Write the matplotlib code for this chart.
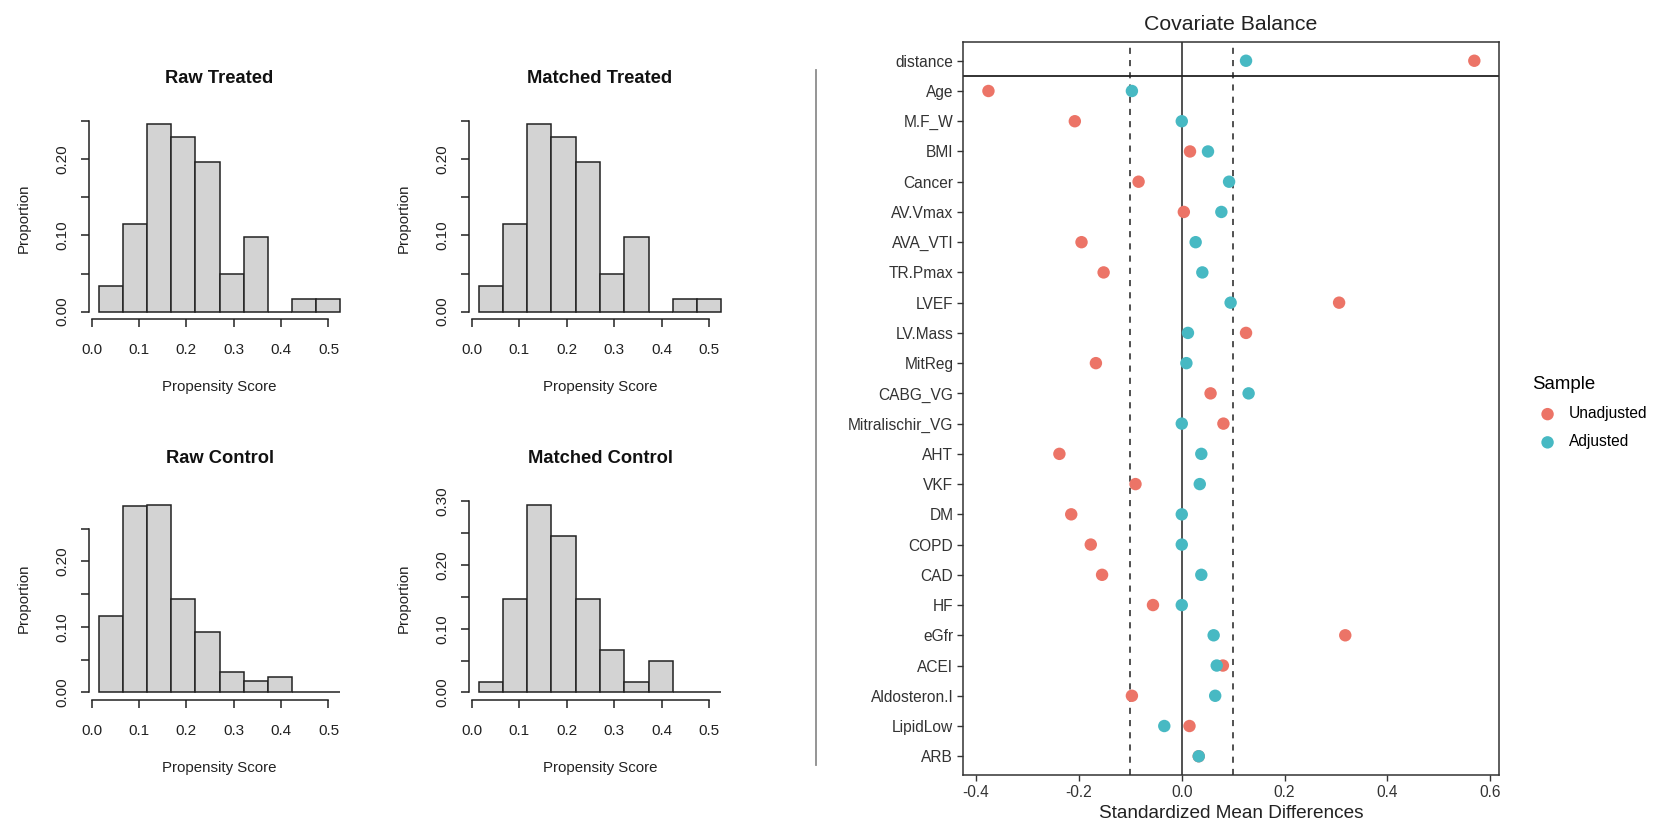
import matplotlib
matplotlib.use("Agg")
import matplotlib.pyplot as plt
from matplotlib.lines import Line2D
import numpy as np

plt.rcParams["font.family"] = ["Liberation Sans", "DejaVu Sans"]

W, H = 1660, 825

# ── histogram data (proportions per propensity-score bin) ──────────────────────
bin_edges = [0.015, 0.066, 0.117, 0.168, 0.219, 0.270, 0.321, 0.372, 0.423, 0.474, 0.525]
raw_treated = [0.033, 0.115, 0.246, 0.230, 0.197, 0.049, 0.098, 0.0, 0.016, 0.016]
matched_treated = [0.033, 0.115, 0.246, 0.230, 0.197, 0.049, 0.098, 0.0, 0.016, 0.016]
raw_control = [0.117, 0.285, 0.287, 0.143, 0.092, 0.031, 0.018, 0.024, 0.0, 0.0]
matched_control = [0.017, 0.147, 0.295, 0.246, 0.147, 0.066, 0.017, 0.049, 0.0, 0.0]
hist_titles = ["Raw Treated", "Matched Treated", "Raw Control", "Matched Control"]
x_ticks = [0.0, 0.1, 0.2, 0.3, 0.4, 0.5]

# ── love plot data ─────────────────────────────────────────────────────────────
covariates = ["distance", "Age", "M.F_W", "BMI", "Cancer", "AV.Vmax", "AVA_VTI", "TR.Pmax",
              "LVEF", "LV.Mass", "MitReg", "CABG_VG", "Mitralischir_VG", "AHT", "VKF", "DM",
              "COPD", "CAD", "HF", "eGfr", "ACEI", "Aldosteron.I", "LipidLow", "ARB"]
smd_unadjusted = [0.569, -0.376, -0.208, 0.016, -0.084, 0.004, -0.195, -0.152,
                  0.306, 0.125, -0.167, 0.056, 0.081, -0.238, -0.090, -0.215,
                  -0.177, -0.155, -0.056, 0.318, 0.080, -0.097, 0.015, 0.033]
smd_adjusted = [0.125, -0.097, 0.0, 0.051, 0.092, 0.077, 0.027, 0.040,
                0.095, 0.012, 0.009, 0.130, 0.0, 0.038, 0.035, 0.0,
                0.0, 0.038, 0.0, 0.062, 0.068, 0.065, -0.034, 0.033]
smd_ticks = [-0.4, -0.2, 0.0, 0.2, 0.4, 0.6]
threshold = 0.1

RED = "#EC7467"
TEAL = "#47B9C3"
BAR_GREY = "#D3D3D3"
INK = "#222222"

fig = plt.figure(figsize=(W / 100, H / 100), dpi=100)
fig.patch.set_facecolor("white")


def px_axes(left, top, right, bottom):
    return fig.add_axes([left / W, 1 - bottom / H, (right - left) / W, (bottom - top) / H])


def hist_panel(left, top, right, bottom, heights, title):
    ax = px_axes(left, top, right, bottom)
    widths = np.diff(bin_edges)
    ax.bar(bin_edges[:-1], heights, width=widths, align="edge", color=BAR_GREY,
           edgecolor=INK, linewidth=1.1)
    rng = bin_edges[-1] - bin_edges[0]
    ax.set_xlim(bin_edges[0] - 0.04 * rng, bin_edges[-1] + 0.04 * rng)
    hmax = max(heights)
    ytop = hmax * 1.04
    ax.set_ylim(-0.04 * hmax, ytop)
    yt = [t for t in np.arange(0, 0.351, 0.05) if t <= ytop]
    ylabels = [f"{t:.2f}" if i % 2 == 0 else "" for i, t in enumerate(yt)]
    ax.set_yticks(yt, ylabels)
    ax.set_xticks(x_ticks, [f"{t:.1f}" for t in x_ticks])
    ax.spines[["top", "right"]].set_visible(False)
    ax.spines["left"].set_bounds(0, yt[-1])
    ax.spines["bottom"].set_bounds(0, 0.5)
    for s in ["left", "bottom"]:
        ax.spines[s].set_color(INK)
        ax.spines[s].set_linewidth(1.1)
    ax.tick_params(axis="both", length=6, width=1.1, color=INK, labelsize=11,
                   labelcolor=INK)
    ax.tick_params(axis="x", pad=11)
    ax.tick_params(axis="y", pad=8, labelrotation=90)
    for lab in ax.get_yticklabels():
        lab.set_va("center")
    cx = (left + right) / 2
    fig.text(cx / W, 1 - (top - 38.5) / H, title, ha="center", va="center",
             fontsize=13.2, fontweight="bold", color="#111111")
    fig.text(cx / W, 1 - (bottom + 68) / H, "Propensity Score", ha="center", va="center",
             fontsize=10.8, color=INK)
    fig.text((left - 65) / W, 1 - ((top + bottom) / 2) / H, "Proportion", ha="center",
             va="center", rotation=90, fontsize=10.8, color=INK)
    return ax


hist_panel(89, 117, 350, 319, raw_treated, hist_titles[0])
hist_panel(469, 117, 731, 319, matched_treated, hist_titles[1])
hist_panel(89, 497, 350, 700, raw_control, hist_titles[2])
hist_panel(469, 497, 731, 700, matched_control, hist_titles[3])

# separator line between the two halves
fig.add_artist(Line2D([816 / W, 816 / W], [1 - 70 / H, 1 - 765 / H], color="#8c8c8c", lw=1.3))

# ── Covariate balance (love plot) ─────────────────────────────────────────────
ax = px_axes(963, 42, 1499, 775)
ypos = np.arange(len(covariates))
ax.axvline(0, color=INK, lw=1.1, zorder=1)
for v in (-threshold, threshold):
    ax.axvline(v, color=INK, lw=1.1, linestyle=(0, (4, 4)), zorder=1)
ax.axhline(0.5, color=INK, lw=1.3, zorder=1)
ax.scatter(smd_unadjusted, ypos, s=80, color=RED, edgecolors="none", zorder=3,
           label="Unadjusted")
ax.scatter(smd_adjusted, ypos, s=80, color=TEAL, edgecolors="none", zorder=4,
           label="Adjusted")
ax.set_ylim(len(covariates) - 1 + 0.62, -0.62)
ax.set_xlim(-0.4255, 0.617)
ax.set_yticks(ypos, covariates)
ax.set_xticks(smd_ticks, [f"{t:.1f}" for t in smd_ticks])
for s in ax.spines.values():
    s.set_color("#333333")
    s.set_linewidth(1.1)
ax.tick_params(axis="both", length=4, width=1, color="#333333", labelsize=11.2,
               labelcolor="#333333")
ax.tick_params(axis="y", pad=3)
ax.tick_params(axis="x", pad=3)
fig.text(1231 / W, 1 - 24 / H, "Covariate Balance", ha="center", va="center",
         fontsize=15.3, color="#222222")
fig.text(1231 / W, 1 - 813 / H, "Standardized Mean Differences", ha="center",
         va="center", fontsize=13.7, color="#222222")

leg = ax.legend(title="Sample", loc="upper left", bbox_to_anchor=(1518 / W, 1 - 362 / H),
                bbox_transform=fig.transFigure, frameon=False, fontsize=11.2,
                title_fontsize=13.4, handletextpad=0.35, labelspacing=0.85,
                alignment="left", scatterpoints=1)

fig.savefig("out.png", dpi=100, facecolor="white")
